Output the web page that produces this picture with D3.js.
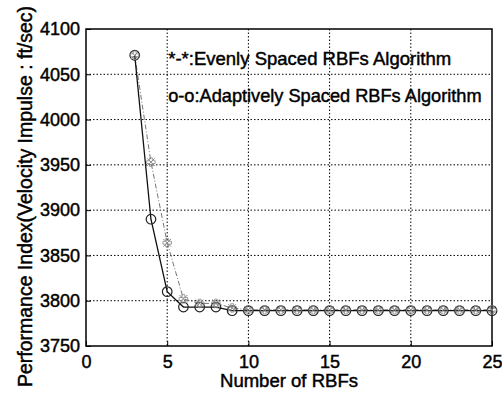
<!DOCTYPE html>
<html>
<head>
<meta charset="utf-8">
<script src="https://cdn.jsdelivr.net/npm/d3@7"></script>
<style>
  body { margin: 0; background: #fff; }
  text { font-family: "Liberation Sans", Arial, sans-serif; fill: #000; stroke: #000; stroke-width: 0.45px; }
</style>
</head>
<body>
<div id="chart"></div>
<script>
// data
const rbfCounts = [3, 4, 5, 6, 7, 8, 9, 10, 11, 12, 13, 14, 15, 16, 17, 18, 19, 20, 21, 22, 23, 24, 25];
const evenlySpaced = [4071, 3953, 3864, 3802, 3797, 3797, 3792, 3790, 3790, 3790, 3790, 3790, 3790, 3790, 3790, 3790, 3790, 3790, 3790, 3790, 3790, 3790, 3790];
const adaptivelySpaced = [4071, 3890, 3810, 3793, 3793, 3793, 3789, 3789, 3789, 3789, 3789, 3789, 3789, 3789, 3789, 3789, 3789, 3789, 3789, 3789, 3789, 3789, 3789];
const xTicks = [0, 5, 10, 15, 20, 25];
const yTicks = [3750, 3800, 3850, 3900, 3950, 4000, 4050, 4100];
const legendLines = ['*-*:Evenly Spaced RBFs Algorithm', 'o-o:Adaptively Spaced RBFs Algorithm'];

const width = 502, height = 394;
const margin = { top: 29, right: 10, bottom: 48, left: 86 };
const boundedWidth = width - margin.left - margin.right;
const boundedHeight = height - margin.top - margin.bottom;

const svg = d3.select('#chart').append('svg')
    .attr('width', width)
    .attr('height', height);

const bounds = svg.append('g')
    .attr('transform', `translate(${margin.left},${margin.top})`);

const xScale = d3.scaleLinear().domain([0, 25]).range([0, boundedWidth]);
const yScale = d3.scaleLinear().domain([3750, 4100]).range([boundedHeight, 0]);

// grid lines (dotted)
bounds.append('g')
    .selectAll('line')
    .data(xTicks.slice(1, -1))
    .join('line')
    .attr('x1', d => xScale(d)).attr('x2', d => xScale(d))
    .attr('y1', 0).attr('y2', boundedHeight)
    .attr('stroke', '#000').attr('stroke-width', 1)
    .attr('stroke-dasharray', '1.5,2');

bounds.append('g')
    .selectAll('line')
    .data(yTicks.slice(1, -1))
    .join('line')
    .attr('x1', 0).attr('x2', boundedWidth)
    .attr('y1', d => yScale(d)).attr('y2', d => yScale(d))
    .attr('stroke', '#000').attr('stroke-width', 1)
    .attr('stroke-dasharray', '1.5,2');

// axes, ticks inside like matlab
const xAxis = d3.axisBottom(xScale).tickValues(xTicks).tickSize(-5).tickPadding(9).tickFormat(d3.format('d'));
const yAxis = d3.axisLeft(yScale).tickValues(yTicks).tickSize(-5).tickPadding(6).tickFormat(d3.format('d'));

const xAxisG = bounds.append('g')
    .attr('transform', `translate(0,${boundedHeight})`)
    .call(xAxis);
const yAxisG = bounds.append('g').call(yAxis);

[xAxisG, yAxisG].forEach(g => {
    g.select('.domain').remove();
    g.selectAll('.tick text')
        .attr('font-size', 18)
        .attr('font-family', '"Liberation Sans", Arial, sans-serif');
    g.selectAll('.tick line').attr('stroke', '#000');
});

// box
bounds.append('rect')
    .attr('width', boundedWidth).attr('height', boundedHeight)
    .attr('fill', 'none').attr('stroke', '#000').attr('stroke-width', 1.5);

// axis titles (squeezed to the widths seen in the picture)
svg.append('text')
    .attr('x', 289)
    .attr('y', 387)
    .attr('text-anchor', 'middle')
    .attr('font-size', 18)
    .attr('textLength', 138)
    .attr('lengthAdjust', 'spacingAndGlyphs')
    .text('Number of RBFs');

svg.append('text')
    .attr('transform', 'rotate(-90)')
    .attr('x', -196.5)
    .attr('y', 32)
    .attr('text-anchor', 'middle')
    .attr('font-size', 19.5)
    .attr('textLength', 381)
    .attr('lengthAdjust', 'spacingAndGlyphs')
    .text('Performance Index(Velocity Impulse : ft/sec)');

// lines
const line = d3.line()
    .x((d, i) => xScale(rbfCounts[i]))
    .y(d => yScale(d));

bounds.append('path')
    .datum(evenlySpaced)
    .attr('d', line)
    .attr('fill', 'none')
    .attr('stroke', '#777')
    .attr('stroke-width', 1)
    .attr('stroke-dasharray', '5,2,1,2');

bounds.append('path')
    .datum(adaptivelySpaced)
    .attr('d', line)
    .attr('fill', 'none')
    .attr('stroke', '#111')
    .attr('stroke-width', 1.3);

// circle markers
bounds.append('g')
    .selectAll('circle')
    .data(adaptivelySpaced)
    .join('circle')
    .attr('cx', (d, i) => xScale(rbfCounts[i]))
    .attr('cy', d => yScale(d))
    .attr('r', 4.8)
    .attr('fill', 'none')
    .attr('stroke', '#222')
    .attr('stroke-width', 1.2);

// star markers: times + cross overlaid
bounds.append('g')
    .selectAll('path')
    .data(evenlySpaced)
    .join('path')
    .attr('transform', (d, i) => `translate(${xScale(rbfCounts[i])},${yScale(d)})`)
    .attr('d', d3.symbol().type(d3.symbolTimes).size(40))
    .attr('fill', 'none')
    .attr('stroke', '#888')
    .attr('stroke-width', 1);

bounds.append('g')
    .selectAll('path')
    .data(evenlySpaced)
    .join('path')
    .attr('transform', (d, i) => `translate(${xScale(rbfCounts[i])},${yScale(d)})`)
    .attr('d', d3.symbol().type(d3.symbolCross).size(40))
    .attr('fill', 'none')
    .attr('stroke', '#888')
    .attr('stroke-width', 0.8);

// legend text; first line stretched a little, second at its natural width
const legendText = bounds.append('g')
    .selectAll('text')
    .data(legendLines)
    .join('text')
    .attr('x', xScale(5) + 1)
    .attr('y', (d, i) => 36 + i * 37)
    .attr('font-size', 18.2)
    .text(d => d);

legendText.filter((d, i) => i === 0)
    .attr('textLength', 283)
    .attr('lengthAdjust', 'spacingAndGlyphs');
</script>
</body>
</html>
